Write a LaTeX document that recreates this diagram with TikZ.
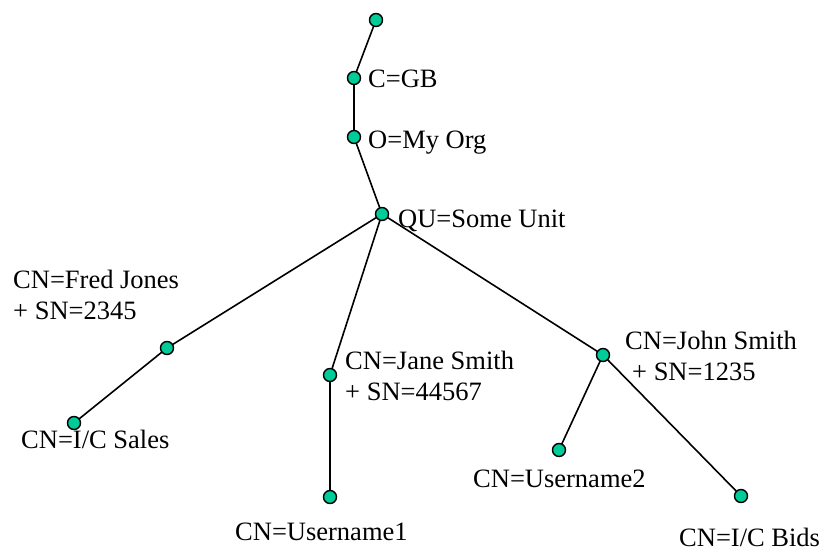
\documentclass[tikz,border=0pt]{standalone}
\usepackage{fontspec}
\setmainfont{Liberation Serif}
\definecolor{dotfill}{RGB}{0,204,153}
\begin{document}
\begin{tikzpicture}[x=1pt,y=-1pt,
  dot/.style={circle,draw=black,line width=1.4pt,fill=dotfill,minimum size=13pt,inner sep=0pt},
  edge/.style={line width=1.6pt,black},
  lbl/.style={anchor=base west,inner sep=0pt,align=left,font=\fontsize{26.5}{31}\selectfont}]
\useasboundingbox (0,0) rectangle (822,551);
\coordinate (root) at (376,20);
\coordinate (c) at (354,78);
\coordinate (o) at (354,137);
\coordinate (ou) at (382,214);
\coordinate (fred) at (167,348);
\coordinate (sales) at (74,423);
\coordinate (jane) at (330,375);
\coordinate (u1) at (330,497);
\coordinate (john) at (603,355);
\coordinate (u2) at (559,450);
\coordinate (bids) at (741,496);
\draw[edge] (root) -- (c) -- (o) -- (ou);
\draw[edge] (ou) -- (fred) -- (sales);
\draw[edge] (ou) -- (jane) -- (u1);
\draw[edge] (ou) -- (john) -- (u2);
\draw[edge] (john) -- (bids);
\foreach \n in {root,c,o,ou,fred,sales,jane,u1,john,u2,bids}
  \node[dot] (d\n) at (\n) {};
\node[lbl] (lc) at (368,88) {C=GB};
\node[lbl] (lo) at (368,148) {O=My Org};
\node[lbl] (lou) at (398,227) {QU=Some Unit};
\node[lbl] (lfred) at (13,319) {CN=Fred Jones\\+ SN=2345};
\node[lbl] (lsales) at (21,448) {CN=I/C Sales};
\node[lbl] (ljane) at (345,400) {CN=Jane Smith\\+ SN=44567};
\node[lbl] (lu1) at (235,540) {CN=Username1};
\node[lbl] (ljohn) at (625,380) {CN=John Smith\\\hspace{7pt}+ SN=1235};
\node[lbl] (lu2) at (473,487) {CN=Username2};
\node[lbl] (lbids) at (679,546) {CN=I/C Bids};
\end{tikzpicture}
\end{document}
